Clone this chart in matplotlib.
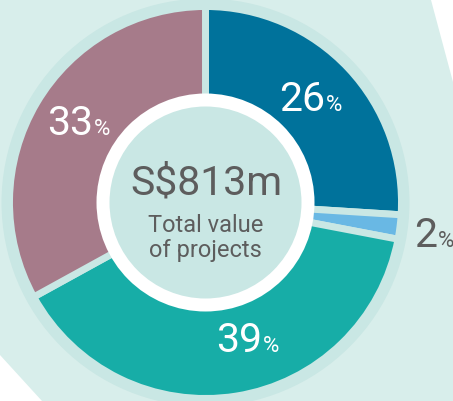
import matplotlib
matplotlib.use("Agg")
import matplotlib.pyplot as plt
from matplotlib.patches import Circle, Polygon, Rectangle

plt.rcParams["font.family"] = ["Roboto", "DejaVu Sans"]

# Data
shares = [26, 2, 39, 33]
share_labels = ["26", "2", "39", "33"]
colors = ["#00729b", "#69b8e4", "#17ada7", "#a67b8a"]
total_text = "S$813m"
sub_text = "Total value\nof projects"

W, H = 453, 401
bg = "#d8eeeb"
ring = "#c9e7e4"
grey = "#5d5d5d"


def Y(y):
    # picture y (from top) -> axes y
    return H - y


fig = plt.figure(figsize=(W / 100, H / 100), dpi=100)
ax = fig.add_axes([0, 0, 1, 1])

# background shape
ax.add_patch(Rectangle((0, 0), W, H, color="white", zorder=0))
ax.add_patch(Polygon([(0, Y(0)), (431, Y(0)), (W, Y(82)), (W, Y(H)),
                      (42, Y(H)), (0, Y(355))], closed=True,
                     color=bg, lw=0, zorder=1))

cx, cy = 205.5, Y(202.5)
ax.add_patch(Circle((cx, cy), 204, color=ring, lw=0, zorder=2))

wedges, _ = ax.pie(shares, colors=colors, center=(cx, cy), radius=196,
                   startangle=90, counterclock=False,
                   wedgeprops=dict(width=92, edgecolor=ring, linewidth=5),
                   frame=True)
for w in wedges:
    w.set_zorder(3)

ax.set_xlim(0, W)
ax.set_ylim(0, H)
ax.set_aspect("equal")
ax.axis("off")

ax.add_patch(Circle((cx, cy), 109, color="white", lw=0, zorder=4))
ax.add_patch(Circle((cx, cy), 96, color=ring, lw=0, zorder=5))

# centre text
ax.text(cx + 0.5, Y(195), total_text, ha="center", va="baseline",
        fontsize=29.5, color=grey, zorder=6)
ax.text(cx, Y(238), sub_text, ha="center", va="center",
        fontsize=17, color=grey, linespacing=1.1, zorder=6)

# percentage labels: (split x, baseline y, colour)
label_pos = [(325, 111, "white"), (437, 247, grey),
             (262, 352, "white"), (93, 135, "white")]
for lab, (x, y, c) in zip(share_labels, label_pos):
    ax.text(x, Y(y), lab, ha="right", va="baseline", fontsize=29.5,
            color=c, zorder=6)
    ax.text(x + 1, Y(y), "%", ha="left", va="baseline", fontsize=16,
            color=c, zorder=6)

fig.savefig("out.png", dpi=100)
